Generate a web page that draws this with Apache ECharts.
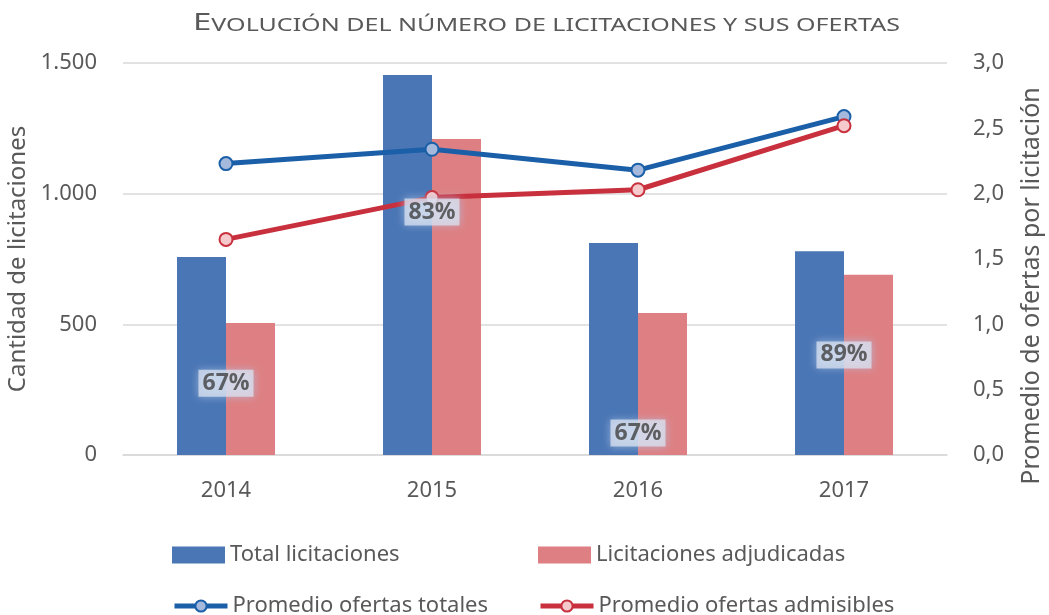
<!DOCTYPE html>
<html>
<head>
<meta charset="utf-8">
<script src="https://cdn.jsdelivr.net/npm/echarts@6/dist/echarts.min.js"></script>
<style>
  html, body { margin: 0; padding: 0; background: #fff; }
  #chart { width: 1049px; height: 615px; }
</style>
</head>
<body>
<div id="chart"></div>
<script>
var years = ["2014", "2015", "2016", "2017"];
var totalLicitaciones = [758, 1454, 811, 780];
var licitacionesAdjudicadas = [505, 1209, 543, 690];
var promedioTotales = [2.23, 2.34, 2.18, 2.59];
var promedioAdmisibles = [1.65, 1.97, 2.03, 2.52];
// % adjudicadas y altura (en unidades del eje izq.) donde va la etiqueta
var pctAdjudicadas = [67, 83, 67, 89];
var pctLabelY = [275, 930, 84, 383];

var font = "Noto Sans";
var grey = "#595959";

// titulo en versalitas: se estira en x para ocupar el ancho del original
var titleBig = "E";
var titleSmall = "VOLUCIÓN DEL NÚMERO DE LICITACIONES Y SUS OFERTAS";
var ctx = document.createElement("canvas").getContext("2d");
ctx.font = '23px "' + font + '"';
var wBig = ctx.measureText(titleBig).width;
ctx.font = '17.5px "' + font + '"';
var wSmall = ctx.measureText(titleSmall).width;
var titleScale = 707 / (wBig + wSmall);

var legendText = { color: grey, fontSize: 22, fontFamily: font };

var myChart = echarts.init(document.getElementById("chart"));
var option = {
  backgroundColor: "#fff",
  animation: false,
  textStyle: { fontFamily: font },
  graphic: [
    {
      type: "text",
      x: 193,
      y: 9,
      scaleX: titleScale,
      style: {
        text: "{big|" + titleBig + "}{small|" + titleSmall + "}",
        fill: grey,
        rich: {
          big: { fontFamily: font, fontSize: 23, fill: grey, lineHeight: 26, verticalAlign: "bottom" },
          small: { fontFamily: font, fontSize: 17.5, fill: grey, lineHeight: 26, verticalAlign: "bottom" }
        }
      }
    }
  ],
  grid: {
    left: 123,
    right: 102,
    top: 63,
    bottom: 160,
    outerBoundsMode: "none"
  },
  legend: [
    {
      data: ["Total licitaciones"],
      left: 167,
      top: 539,
      icon: "rect",
      itemWidth: 53,
      itemHeight: 17,
      textStyle: legendText
    },
    {
      data: ["Licitaciones adjudicadas"],
      left: 533,
      top: 539,
      icon: "rect",
      itemWidth: 53,
      itemHeight: 17,
      textStyle: legendText
    },
    {
      data: ["Promedio ofertas totales"],
      left: 167,
      top: 590,
      itemWidth: 53,
      itemHeight: 14,
      lineStyle: { width: 5 },
      textStyle: legendText
    },
    {
      data: ["Promedio ofertas admisibles"],
      left: 533,
      top: 590,
      itemWidth: 53,
      itemHeight: 14,
      lineStyle: { width: 5 },
      textStyle: legendText
    }
  ],
  xAxis: {
    type: "category",
    data: years,
    axisTick: { show: false },
    axisLine: { lineStyle: { color: "#d9d9d9", width: 1.5 } },
    axisLabel: { color: grey, fontSize: 22, margin: 25 }
  },
  yAxis: [
    {
      type: "value",
      min: 0,
      max: 1500,
      interval: 500,
      name: "Cantidad de licitaciones",
      nameLocation: "middle",
      nameGap: 81,
      nameTextStyle: { color: grey, fontSize: 24 },
      axisLabel: {
        color: grey,
        fontSize: 22,
        margin: 26,
        formatter: function(v) {
          return v >= 1000 ? (v / 1000).toFixed(3) : String(v);
        }
      },
      splitLine: { lineStyle: { color: "#d9d9d9", width: 1.5 } }
    },
    {
      type: "value",
      min: 0,
      max: 3,
      interval: 0.5,
      name: "Promedio de ofertas por licitación",
      nameLocation: "middle",
      nameGap: 72,
      nameTextStyle: { color: grey, fontSize: 25, padding: [0, 54, 0, 0] },
      axisLabel: {
        color: grey,
        fontSize: 22,
        margin: 26,
        formatter: function(v) {
          return v.toFixed(1).replace(".", ",");
        }
      },
      splitLine: { show: false }
    }
  ],
  series: [
    {
      name: "Total licitaciones",
      type: "bar",
      data: totalLicitaciones,
      barWidth: 49,
      barGap: "0%",
      itemStyle: { color: "#4a76b5" }
    },
    {
      name: "Licitaciones adjudicadas",
      type: "bar",
      data: licitacionesAdjudicadas,
      barWidth: 49,
      itemStyle: { color: "#de8083" }
    },
    {
      name: "Promedio ofertas totales",
      type: "line",
      yAxisIndex: 1,
      data: promedioTotales,
      symbol: "circle",
      symbolSize: 13,
      lineStyle: { color: "#1a5fa8", width: 5 },
      itemStyle: { color: "#a4b9dc", borderColor: "#1a5fa8", borderWidth: 2 },
      z: 5
    },
    {
      name: "Promedio ofertas admisibles",
      type: "line",
      yAxisIndex: 1,
      data: promedioAdmisibles,
      symbol: "circle",
      symbolSize: 13,
      lineStyle: { color: "#c8303d", width: 5 },
      itemStyle: { color: "#f6cacc", borderColor: "#c8303d", borderWidth: 2 },
      z: 5
    },
    {
      name: "pct",
      type: "scatter",
      data: pctLabelY,
      symbolSize: 1,
      itemStyle: { color: "rgba(0,0,0,0)" },
      z: 10,
      silent: true,
      label: {
        show: true,
        position: "inside",
        formatter: function(p) {
          return pctAdjudicadas[p.dataIndex] + "%";
        },
        fontFamily: font,
        fontSize: 23,
        fontWeight: "bold",
        color: "#404040",
        backgroundColor: "rgba(220,228,242,0.92)",
        padding: [3, 4, 1, 4],
        shadowBlur: 8,
        shadowColor: "rgba(175,195,228,0.9)"
      }
    }
  ]
};
myChart.setOption(option);
</script>
</body>
</html>
